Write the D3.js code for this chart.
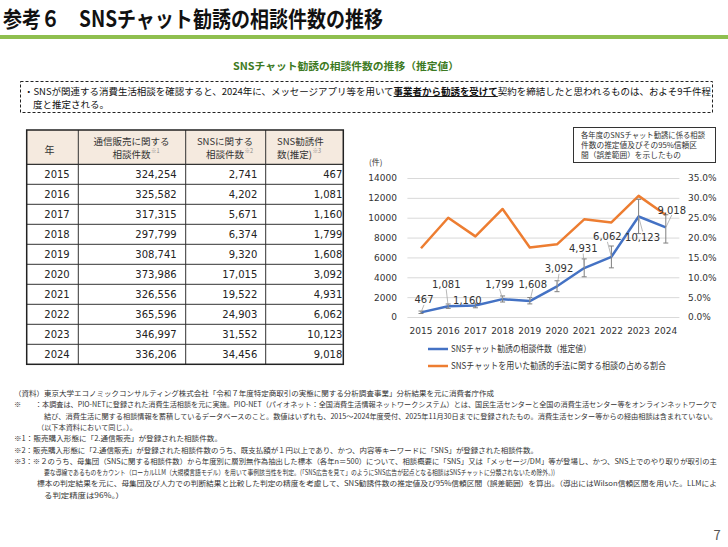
<!DOCTYPE html>
<html><head><meta charset="utf-8">
<script src="https://cdn.jsdelivr.net/npm/d3@7"></script>
<style>
html,body{margin:0;padding:0;background:#fff;}
svg{display:block;}
</style>
</head><body>
<svg id="c" width="728" height="547"></svg>
<script>
// ---------------- DATA ----------------
const years = [2015, 2016, 2017, 2018, 2019, 2020, 2021, 2022, 2023, 2024];
const mailOrderConsults = [324254, 325582, 317315, 297799, 308741, 373986, 326556, 365596, 346997, 336206];
const snsConsults = [2741, 4202, 5671, 6374, 9320, 17015, 19522, 24903, 31552, 34456];
const snsSolicit = [467, 1081, 1160, 1799, 1608, 3092, 4931, 6062, 10123, 9018];
const ciLow  = [350, 870, 930, 1510, 1320, 2550, 4050, 4950, 8400, 7450];
const ciHigh = [600, 1310, 1390, 2120, 1960, 3650, 5850, 7150, 11850, 10300];
const shareRatio = [0.173, 0.250, 0.203, 0.272, 0.175, 0.183, 0.246, 0.238, 0.305, 0.257];
const leftTicks = [0, 2000, 4000, 6000, 8000, 10000, 12000, 14000];
const rightTicks = [0, 0.05, 0.10, 0.15, 0.20, 0.25, 0.30, 0.35];
const legendLabels = ["SNSチャット勧誘の相談件数（推定値）", "SNSチャットを用いた勧誘的手法に関する相談の占める割合"];
const tableHeaders = [["年"], ["通信販売に関する", "相談件数", "※1"], ["SNSに関する", "相談件数", "※2"], ["SNS勧誘件", "数(推定)", "※3"]];
const titleText = "参考６　SNSチャット勧誘の相談件数の推移";
const subtitleText = "SNSチャット勧誘の相談件数の推移（推定値）";
const noteBoxLines = ["各年度のSNSチャット勧誘に係る相談", "件数の推定値及びその95%信頼区", "間（誤差範囲）を示したもの"];
const footnotes = [
  "（資料）東京大学エコノミックコンサルティング株式会社「令和７年度特定商取引の実態に関する分析調査事業」分析結果を元に消費者庁作成",
  "：本調査は、PIO-NETに登録された消費生活相談を元に実施。PIO-NET（パイオネット：全国消費生活情報ネットワークシステム）とは、国民生活センターと全国の消費生活センター等をオンラインネットワークで",
  "結び、消費生活に関する相談情報を蓄積しているデータベースのこと。数値はいずれも、2015～2024年度受付、2025年11月30日までに登録されたもの。消費生活センター等からの経由相談は含まれていない。",
  "（以下本資料において同じ。）。",
  "※1：販売購入形態に「2.通信販売」が登録された相談件数。",
  "※2：販売購入形態に「2.通信販売」が登録された相談件数のうち、既支払額が１円以上であり、かつ、内容等キーワードに「SNS」が登録された相談件数。",
  "※3：※２のうち、母集団（SNSに関する相談件数）から年度別に層別無作為抽出した標本（各年n＝500）について、相談概要に「SNS」又は「メッセージ/DM」等が登場し、かつ、SNS上でのやり取りが取引の主",
  "要な導線であるものをカウント（ローカルLLM（大規模言語モデル）を用いて事例該当性を判定。(「SNS広告を見て」のようにSNS広告が起点となる相談はSNSチャットに分類されないため除外。))",
  "標本の判定結果を元に、母集団及び人力での判断結果と比較した判定の精度を考慮して、SNS勧誘件数の推定値及び95%信頼区間（誤差範囲）を算出。（導出にはWilson信頼区間を用いた。LLMによ",
  "る判定精度は96%。）"
];

// ---------------- DRAW ----------------
const svg = d3.select("#c");
const JP = "'Noto Sans CJK JP', 'Noto Sans', sans-serif";
const NUM = "'DejaVu Sans', Verdana, sans-serif";
const fmt = d3.format(",");

// Title
svg.append("text").attr("x", 3).attr("y", 27)
  .attr("font-family", JP).attr("font-weight", 700).attr("font-size", 22).attr("fill", "#111")
  .attr("textLength", 380).attr("lengthAdjust", "spacingAndGlyphs").text(titleText);
svg.append("rect").attr("x", 0).attr("y", 35).attr("width", 728).attr("height", 4).attr("fill", "#8fbf4f");

// Subtitle
svg.append("text").attr("x", 346).attr("y", 70).attr("text-anchor", "middle")
  .attr("font-family", JP).attr("font-weight", 700).attr("font-size", 10).attr("fill", "#3d7a23")
  .attr("textLength", 226).attr("lengthAdjust", "spacingAndGlyphs").text(subtitleText);

// Dashed box
svg.append("rect").attr("x", 20.5).attr("y", 81.5).attr("width", 692).attr("height", 31)
  .attr("fill", "none").attr("stroke", "#222").attr("stroke-dasharray", "3,2");
const s1 = svg.append("text").attr("x", 24).attr("y", 95).attr("font-family", JP).attr("font-size", 9.5).attr("fill", "#111")
  .attr("textLength", 687).attr("lengthAdjust", "spacingAndGlyphs");
s1.append("tspan").text("・SNSが関連する消費生活相談を確認すると、2024年に、メッセージアプリ等を用いて");
s1.append("tspan").attr("font-weight", 700).attr("text-decoration", "underline").text("事業者から勧誘を受けて");
s1.append("tspan").text("契約を締結したと思われるものは、およそ9千件程");
svg.append("text").attr("x", 33).attr("y", 108).attr("font-family", JP).attr("font-size", 9.5).attr("fill", "#111")
  .text("度と推定される。");

// ---------------- TABLE ----------------
const colX = [26.7, 78.3, 185.7, 265.7, 343.3];
const tTop = 130, hdrBottom = 164.3, rowH = 20;
const tBottom = hdrBottom + rowH * years.length;
const tbl = svg.append("g");
tbl.append("rect").attr("x", colX[0]).attr("y", tTop).attr("width", colX[4] - colX[0]).attr("height", hdrBottom - tTop)
  .attr("fill", "#f5eadf");
d3.range(years.length).forEach(i => {
  const yy = hdrBottom + rowH * i;
  tbl.append("line").attr("x1", colX[0]).attr("x2", colX[4]).attr("y1", yy).attr("y2", yy)
    .attr("stroke", "#333").attr("stroke-width", i === 0 ? 1.2 : 1);
});
colX.slice(1, 4).forEach(cx => {
  tbl.append("line").attr("x1", cx).attr("x2", cx).attr("y1", tTop).attr("y2", tBottom).attr("stroke", "#333").attr("stroke-width", 1);
});
tbl.append("rect").attr("x", colX[0]).attr("y", tTop).attr("width", colX[4] - colX[0]).attr("height", tBottom - tTop)
  .attr("fill", "none").attr("stroke", "#222").attr("stroke-width", 1.5);

// headers
tbl.append("text").attr("x", 49.5).attr("y", 153.5).attr("text-anchor", "middle").attr("font-family", JP)
  .attr("font-size", 10).attr("fill", "#333").text(tableHeaders[0][0]);
[[131.5, "middle"], [225, "middle"], [277, "start"]].forEach(([hx, anchor], k) => {
  const h = tableHeaders[k + 1];
  tbl.append("text").attr("x", hx).attr("y", 145).attr("text-anchor", anchor).attr("font-family", JP)
    .attr("font-size", 9.5).attr("fill", "#333").text(h[0]);
  const t2 = tbl.append("text").attr("x", hx).attr("y", 157.5).attr("text-anchor", anchor).attr("font-family", JP)
    .attr("font-size", 9.5).attr("fill", "#333").text(h[1]);
  const w = t2.node().getComputedTextLength();
  const endX = anchor === "middle" ? hx + w / 2 : hx + w;
  tbl.append("text").attr("x", endX + 0.5).attr("y", 153).attr("font-family", JP)
    .attr("font-size", 5.5).attr("fill", "#888").text(h[2]);
});
// rows
years.forEach((yr, i) => {
  const cy = hdrBottom + rowH * i + rowH / 2 + 3.6;
  tbl.append("text").attr("x", 57).attr("y", cy).attr("text-anchor", "middle").attr("font-family", NUM)
    .attr("font-size", 10).attr("fill", "#222").text(yr);
  [[176.7, mailOrderConsults[i]], [257.3, snsConsults[i]], [342.3, snsSolicit[i]]].forEach(([rx, v]) => {
    tbl.append("text").attr("x", rx).attr("y", cy).attr("text-anchor", "end").attr("font-family", NUM)
      .attr("font-size", 10).attr("fill", "#222").text(fmt(v));
  });
});

// ---------------- CHART ----------------
const x = d3.scaleBand().domain(years).range([407.4, 679.4]).paddingInner(0).paddingOuter(0);
const cx = d => x(d) + x.bandwidth() / 2;
const y = d3.scaleLinear().domain([0, 14000]).range([317, 178]);
const yR = d3.scaleLinear().domain([0, 0.35]).range([317, 178]);
const chart = svg.append("g");

const grid = chart.append("g").attr("transform", "translate(407.4,0)")
  .call(d3.axisLeft(y).tickValues(leftTicks).tickSize(-(679.4 - 407.4)).tickFormat(""));
grid.select(".domain").remove();
grid.selectAll("line").attr("stroke", "#d9d9d9").attr("stroke-width", 1);

const ax = chart.append("g").attr("transform", "translate(400,0)")
  .call(d3.axisLeft(y).tickValues(leftTicks).tickSize(0).tickPadding(3).tickFormat(d3.format("d")));
ax.select(".domain").remove();
ax.selectAll("text").attr("font-family", NUM).attr("font-size", 9).attr("fill", "#333");

const axR = chart.append("g").attr("transform", "translate(685,0)")
  .call(d3.axisRight(yR).tickValues(rightTicks).tickSize(0).tickPadding(3).tickFormat(d3.format(".1%")));
axR.select(".domain").remove();
axR.selectAll("text").attr("font-family", NUM).attr("font-size", 9).attr("fill", "#333");

const axX = chart.append("g").attr("transform", "translate(0,317)")
  .call(d3.axisBottom(x).tickSize(0).tickPadding(11));
axX.select(".domain").remove();
axX.selectAll("text").attr("font-family", NUM).attr("font-size", 9).attr("fill", "#333");

chart.append("text").attr("x", 369).attr("y", 164.5).attr("font-family", JP).attr("font-size", 8).attr("fill", "#333").text("(件)");

const pts = years.map((yr, i) => ({ yr, v: snsSolicit[i], r: shareRatio[i], lo: ciLow[i], hi: ciHigh[i] }));
chart.append("path").datum(pts)
  .attr("d", d3.line().x(d => cx(d.yr)).y(d => yR(d.r)))
  .attr("fill", "none").attr("stroke", "#ed7d31").attr("stroke-width", 2.5).attr("stroke-linejoin", "round");
chart.append("path").datum(pts)
  .attr("d", d3.line().x(d => cx(d.yr)).y(d => y(d.v)))
  .attr("fill", "none").attr("stroke", "#4472c4").attr("stroke-width", 2.5).attr("stroke-linejoin", "round");

const eb = chart.append("g").attr("stroke", "#7f7f7f").attr("stroke-width", 1);
pts.forEach(d => {
  const xx = cx(d.yr);
  eb.append("line").attr("x1", xx).attr("x2", xx).attr("y1", y(d.lo)).attr("y2", y(d.hi));
  eb.append("line").attr("x1", xx - 2.5).attr("x2", xx + 2.5).attr("y1", y(d.lo)).attr("y2", y(d.lo));
  eb.append("line").attr("x1", xx - 2.5).attr("x2", xx + 2.5).attr("y1", y(d.hi)).attr("y2", y(d.hi));
});

// data labels (pixel offsets from each point)
const labelOffsets = [[3, -12.5], [-2, -22], [-8, -5.5], [-3, -15], [3, -17], [2, -17.5], [-1, -19.5], [-4, -20], [4, 21], [6, -17.5]];
const lab = chart.append("g");
pts.forEach((d, i) => {
  const px = cx(d.yr), py = y(d.v);
  const lx = px + labelOffsets[i][0], ly = py + labelOffsets[i][1];
  if (Math.abs(labelOffsets[i][1]) > 8) {
    const sy = labelOffsets[i][1] < 0 ? ly + 5 : ly - 6;
    lab.append("line").attr("x1", lx).attr("y1", sy).attr("x2", px).attr("y2", py)
      .attr("stroke", "#a6a6a6").attr("stroke-width", 0.8);
  }
  lab.append("text").attr("x", lx).attr("y", ly).attr("dy", "0.36em").attr("text-anchor", "middle")
    .attr("font-family", NUM).attr("font-size", 10).attr("fill", "#333").text(fmt(d.v));
});

// note box
svg.append("rect").attr("x", 573.5).attr("y", 127.5).attr("width", 142).attr("height", 35)
  .attr("fill", "#fff").attr("stroke", "#333").attr("stroke-width", 1);
const noteLens = [124, 116, 100];
noteBoxLines.forEach((t, i) => {
  svg.append("text").attr("x", 581).attr("y", 138 + i * 10).attr("font-family", JP).attr("font-size", 7.5)
    .attr("fill", "#333").attr("textLength", noteLens[i]).attr("lengthAdjust", "spacingAndGlyphs").text(t);
});

// legend
const legColors = ["#4472c4", "#ed7d31"];
const legLens = [140, 215];
legendLabels.forEach((t, i) => {
  const ly = 349 + i * 17;
  svg.append("line").attr("x1", 428).attr("x2", 448).attr("y1", ly).attr("y2", ly)
    .attr("stroke", legColors[i]).attr("stroke-width", 2.5);
  svg.append("text").attr("x", 451).attr("y", ly + 3.2).attr("font-family", JP).attr("font-size", 9)
    .attr("fill", "#333").attr("textLength", legLens[i]).attr("lengthAdjust", "spacingAndGlyphs").text(t);
});

// footnotes
const fnLayout = [[14, 494], [35, 717], [44, 717], [37, 137], [14, 222], [14, 538], [14, 717], [44, 555], [37, 717], [44, 124]];
footnotes.forEach((t, i) => {
  const fy = 396 + i * 11.3;
  const [x0, x1] = fnLayout[i];
  svg.append("text").attr("x", x0).attr("y", fy).attr("font-family", JP).attr("font-size", 7.2)
    .attr("fill", "#333").attr("textLength", x1 - x0).attr("lengthAdjust", "spacingAndGlyphs").text(t);
});
svg.append("text").attr("x", 14).attr("y", 396 + 11.3).attr("font-family", JP).attr("font-size", 7.2)
  .attr("fill", "#333").text("※");

// page number
svg.append("text").attr("x", 717).attr("y", 540).attr("text-anchor", "middle").attr("font-family", JP)
  .attr("font-size", 13).attr("fill", "#555").text("7");
</script>
</body></html>
